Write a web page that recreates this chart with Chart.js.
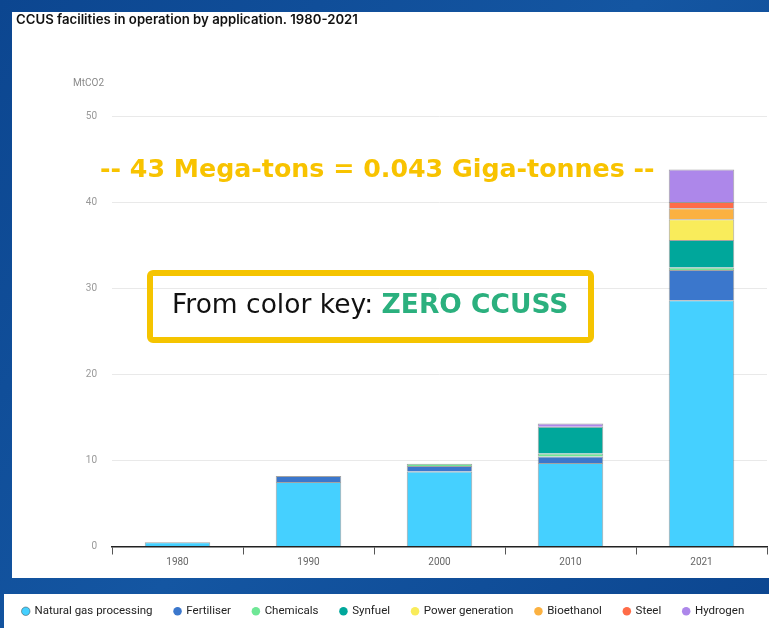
<!DOCTYPE html>
<html>
<head>
<meta charset="utf-8">
<script src="https://cdn.jsdelivr.net/npm/chart.js@4"></script>
<style>
  html, body { margin: 0; padding: 0; background: #0f4c96; }
  #wrap { width: 769px; height: 628px; }
</style>
</head>
<body>
<div id="wrap"><canvas id="ccus" width="769" height="628"></canvas></div>
<script>
// CCUS capture capacity by application, MtCO2
var years = ['1980', '1990', '2000', '2010', '2021'];
var naturalGas = [0.5, 7.5, 8.7, 9.7, 28.6];
var fertiliser = [0, 0.7, 0.65, 0.75, 3.5];
var chemicals = [0, 0, 0.25, 0.35, 0.3];
var synfuel = [0, 0, 0, 3.1, 3.2];
var powerGen = [0, 0, 0, 0, 2.4];
var bioethanol = [0, 0, 0, 0, 1.3];
var steel = [0, 0, 0, 0, 0.7];
var hydrogen = [0, 0, 0, 0.4, 3.8];
var yTicks = [0, 10, 20, 30, 40, 50];

var series = [
    { label: 'Natural gas processing', data: naturalGas, color: '#45d0ff' },
    { label: 'Fertiliser', data: fertiliser, color: '#3b77cc' },
    { label: 'Chemicals', data: chemicals, color: '#6fe796' },
    { label: 'Synfuel', data: synfuel, color: '#00a79b' },
    { label: 'Power generation', data: powerGen, color: '#f9ec5b' },
    { label: 'Bioethanol', data: bioethanol, color: '#fbb141' },
    { label: 'Steel', data: steel, color: '#ff6c48' },
    { label: 'Hydrogen', data: hydrogen, color: '#ad87ea' }
];

// slide backdrop, white panels and the overlaid notes
var slidePlugin = {
    id: 'slide',
    beforeDraw: function(chart) {
        var ctx = chart.ctx;
        ctx.save();
        var g = ctx.createLinearGradient(0, 0, 769, 628);
        g.addColorStop(0, '#0c4690');
        g.addColorStop(0.5, '#1456a2');
        g.addColorStop(1, '#0c4690');
        ctx.fillStyle = g;
        ctx.fillRect(0, 0, 769, 628);
        ctx.fillStyle = '#ffffff';
        ctx.fillRect(12, 12, 757, 566);
        ctx.fillRect(4, 594, 765, 34);
        ctx.restore();
    },
    afterDraw: function(chart) {
        var ctx = chart.ctx;
        ctx.save();
        ctx.textBaseline = 'middle';
        ctx.textAlign = 'left';
        ctx.fillStyle = '#111';
        ctx.font = '600 13.2px Inter, Roboto, sans-serif';
        ctx.fillText('CCUS facilities in operation by application. 1980-2021', 16, 20);
        ctx.fillStyle = '#8a8a8a';
        ctx.font = '10px Roboto, sans-serif';
        ctx.fillText('MtCO2', 73, 83);

        // headline note
        ctx.fillStyle = '#f8c300';
        ctx.font = 'bold 25.3px "DejaVu Sans", sans-serif';
        ctx.fillText('-- 43 Mega-tons = 0.043 Giga-tonnes --', 100, 170);

        // boxed note
        ctx.strokeStyle = '#f5c400';
        ctx.lineWidth = 6;
        ctx.beginPath();
        ctx.roundRect(150, 273, 441, 67, 3);
        ctx.stroke();
        ctx.font = '26.5px "DejaVu Sans", sans-serif';
        ctx.fillStyle = '#111';
        var lead = 'From color key: ';
        ctx.fillText(lead, 172, 306);
        var w = ctx.measureText(lead).width;
        ctx.font = 'bold 26.5px "DejaVu Sans", sans-serif';
        ctx.fillStyle = '#2bb07e';
        ctx.fillText('ZERO CCUSS', 172 + w, 306);
        ctx.restore();
    }
};

var ctx = document.getElementById('ccus').getContext('2d');
var ccusChart = new Chart(ctx, {
    type: 'bar',
    data: {
        labels: years,
        datasets: series.map(function(s) {
            return {
                label: s.label,
                data: s.data,
                backgroundColor: s.color,
                borderColor: 'rgba(50,50,50,0.45)',
                borderWidth: function(c) { return c.raw ? 1 : 0; },
                categoryPercentage: 1,
                barPercentage: 0.5
            };
        })
    },
    options: {
        responsive: false,
        animation: false,
        layout: { padding: { left: 0, right: 2, top: 116, bottom: 1 } },
        plugins: {
            tooltip: { enabled: false },
            legend: {
                position: 'bottom',
                labels: {
                    usePointStyle: true,
                    pointStyle: 'circle',
                    boxWidth: 6,
                    boxHeight: 6,
                    padding: 22,
                    color: '#222',
                    font: { family: 'Roboto, sans-serif', size: 11.5 }
                }
            }
        },
        scales: {
            x: {
                stacked: true,
                offset: true,
                afterFit: function(scale) { scale.height = 37; },
                border: { display: true, color: '#222', width: 1.5 },
                grid: {
                    offset: true,
                    drawOnChartArea: false,
                    drawTicks: true,
                    tickLength: 8,
                    color: '#555'
                },
                ticks: {
                    color: '#666',
                    padding: 2,
                    font: { family: 'Roboto, sans-serif', size: 10 }
                }
            },
            y: {
                stacked: true,
                min: 0,
                max: 50,
                afterFit: function(scale) { scale.width = 112; },
                afterBuildTicks: function(scale) {
                    scale.ticks = yTicks.map(function(v) { return { value: v }; });
                },
                border: { display: false },
                grid: { color: '#e9e9e9', drawTicks: false },
                ticks: {
                    color: '#999',
                    padding: 15,
                    font: { family: 'Roboto, sans-serif', size: 10 }
                }
            }
        }
    },
    plugins: [slidePlugin]
});
</script>
</body>
</html>
